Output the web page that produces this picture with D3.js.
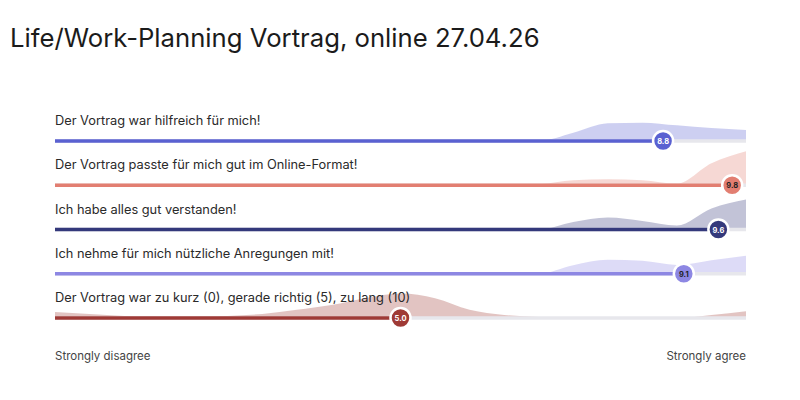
<!DOCTYPE html>
<html>
<head>
<meta charset="utf-8">
<script src="https://cdn.jsdelivr.net/npm/d3@7"></script>
<style>
  body { margin: 0; background: #fff; font-family: Inter, "Noto Sans", sans-serif; }
</style>
</head>
<body>
<div id="chart"></div>
<script>
// Chart data
var title = "Life/Work-Planning Vortrag, online 27.04.26";

var questions = [
  "Der Vortrag war hilfreich für mich!",
  "Der Vortrag passte für mich gut im Online-Format!",
  "Ich habe alles gut verstanden!",
  "Ich nehme für mich nützliche Anregungen mit!",
  "Der Vortrag war zu kurz (0), gerade richtig (5), zu lang (10)"
];

var averages = [8.8, 9.8, 9.6, 9.1, 5.0];

// score grid for the distribution curves (0, 0.5, ... 10)
var scoreSteps = d3.range(0, 10.01, 0.5);

// relative density of answers at each score step
var densities = [
  [0,0,0,0,0,0,0,0,0,0,0,0,0,0, 0,24,52,54,46,38,32],
  [0,0,0,0,0,0,0,0,0,0,0,0,0,0, 3,15,18,15, 5,65,100],
  [0,0,0,0,0,0,0,0,0,0,0,0,0,0, 0,22,35,25,12,62,88],
  [0,0,0,0,0,0,0,0,0,0,0,0,0,0, 0,25,41,38,26,40,53],
  [18,12,6,3,3,6,12,24,38,59,72,58,24,9, 3,0,0,0,0,9,20]
];

var axisLabels = ["Strongly disagree", "Strongly agree"];

var colors = ["#5a61d1", "#e27e71", "#34397b", "#8d87e3", "#9f3a36"];
var dotText = ["#fff", "#222", "#fff", "#222", "#fff"];

// svg params
var svgWidth = 800;
var svgHeight = 400;

var svg = d3.select("#chart")
  .append("svg")
  .attr("width", svgWidth)
  .attr("height", svgHeight);

svg.append("text")
  .attr("x", 10)
  .attr("y", 47)
  .attr("font-size", 25.7)
  .attr("fill", "#1b1b1b")
  .text(title);

// scales
var xScale = d3.scaleLinear().domain([0, 10]).range([55, 746]);
var yScale = d3.scalePoint().domain(questions).range([141, 318]);
var hScale = d3.scaleLinear().domain([0, 100]).range([0, 34]);

var rows = questions.map(function(q, i) {
  return { q: q, avg: averages[i], dens: densities[i], color: colors[i], txt: dotText[i] };
});

var area = d3.area()
  .x(function(d) { return xScale(d.s); })
  .y0(0)
  .y1(function(d) { return -hScale(d.v); })
  .curve(d3.curveMonotoneX);

var rowGroup = svg.selectAll(".row")
  .data(rows)
  .enter()
  .append("g")
  .attr("class", "row")
  .attr("transform", function(d) { return "translate(0," + yScale(d.q) + ")"; });

// distribution curve
rowGroup.append("path")
  .attr("d", function(d) {
    return area(scoreSteps.map(function(s, j) { return { s: s, v: d.dens[j] }; }));
  })
  .attr("fill", function(d) { return d.color; })
  .attr("fill-opacity", 0.3);

// grey track
rowGroup.append("line")
  .attr("x1", xScale(0))
  .attr("x2", xScale(10))
  .attr("stroke", "#e7e7ec")
  .attr("stroke-width", 3.5);

// value bar
rowGroup.append("line")
  .attr("x1", xScale(0))
  .attr("x2", function(d) { return xScale(d.avg); })
  .attr("stroke", function(d) { return d.color; })
  .attr("stroke-width", 3.5);

// question label
rowGroup.append("text")
  .attr("x", xScale(0))
  .attr("y", -16)
  .attr("font-size", 12.8)
  .attr("fill", "#2a2a2a")
  .text(function(d) { return d.q; });

// average marker
rowGroup.append("circle")
  .attr("cx", function(d) { return xScale(d.avg); })
  .attr("r", 10)
  .attr("fill", function(d) { return d.color; })
  .attr("stroke", "#fff")
  .attr("stroke-width", 2.5);

rowGroup.append("text")
  .attr("x", function(d) { return xScale(d.avg); })
  .attr("y", 3)
  .attr("text-anchor", "middle")
  .attr("font-size", 7.5)
  .attr("font-weight", 700)
  .attr("fill", function(d) { return d.txt; })
  .text(function(d) { return d.avg.toFixed(1); });

// scale end labels
svg.selectAll(".endLabel")
  .data(axisLabels)
  .enter()
  .append("text")
  .attr("class", "endLabel")
  .attr("x", function(d, i) { return xScale(i * 10); })
  .attr("y", 360)
  .attr("text-anchor", function(d, i) { return i ? "end" : "start"; })
  .attr("font-size", 11.5)
  .attr("fill", "#444")
  .text(function(d) { return d; });
</script>
</body>
</html>
